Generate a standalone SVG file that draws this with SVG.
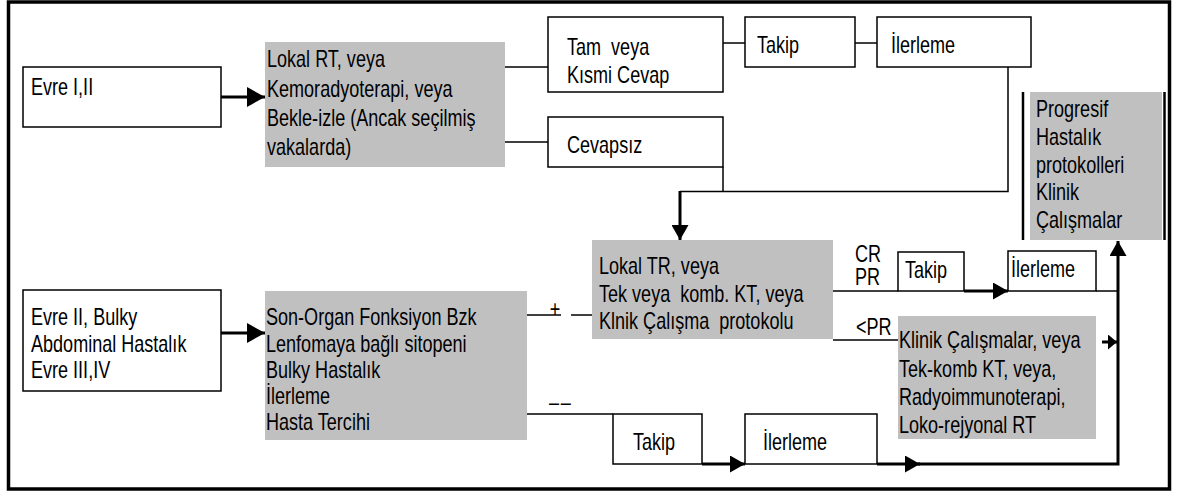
<svg xmlns="http://www.w3.org/2000/svg" width="1179" height="494" viewBox="0 0 1179 494">
<style>
text{font-family:"Liberation Sans",Arial,sans-serif;font-size:23px;fill:#000}
.box{fill:#fff;stroke:#000;stroke-width:1.5}
.gray{fill:#c0c0c0;stroke:none}
.thin{fill:none;stroke:#000;stroke-width:1.5}
.thick{fill:none;stroke:#000;stroke-width:3}
.flank{fill:none;stroke:#000;stroke-width:2.5}
</style>
<defs>
<marker id="ah" markerUnits="userSpaceOnUse" markerWidth="15" markerHeight="17" refX="15" refY="8.5" orient="auto"><path d="M0,0 L15,8.5 L0,17 z" fill="#000"/></marker>
<marker id="ahL" markerUnits="userSpaceOnUse" markerWidth="18" markerHeight="20" refX="18" refY="10" orient="auto"><path d="M0,0 L18,10 L0,20 z" fill="#000"/></marker>
<marker id="ahS" markerUnits="userSpaceOnUse" markerWidth="9" markerHeight="15" refX="9" refY="7.5" orient="auto"><path d="M0,0 L9,7.5 L0,15 z" fill="#000"/></marker>
</defs>
<rect x="8.5" y="2" width="1161" height="487" fill="#fff" stroke="#000" stroke-width="3.5"/>

<g id="connectors">
<line class="thick" x1="221" y1="97" x2="265" y2="97" marker-end="url(#ahL)"/>
<line class="thick" x1="221" y1="333" x2="265" y2="333" marker-end="url(#ahL)"/>
<line class="thin" x1="505" y1="67" x2="548" y2="67"/>
<line class="thin" x1="505" y1="142" x2="548" y2="142"/>
<line class="thin" x1="723" y1="43" x2="745" y2="43"/>
<line class="thin" x1="855" y1="43" x2="877" y2="43"/>
<polyline class="thin" points="1008,67 1008,191.5 680,191.5"/>
<line class="thin" x1="723" y1="167" x2="723" y2="191.5"/>
<line class="thick" x1="680" y1="191" x2="680" y2="240" marker-end="url(#ah)"/>
<line class="thin" x1="527" y1="315" x2="561" y2="315"/>
<line class="thin" x1="571" y1="315" x2="592" y2="315"/>
<line class="thin" x1="833" y1="291" x2="898" y2="291"/>
<line class="thick" x1="964" y1="291" x2="1008" y2="291" marker-end="url(#ah)"/>
<line class="thin" x1="1096" y1="291" x2="1118" y2="291"/>
<line class="thin" x1="833" y1="340" x2="898" y2="340"/>
<line class="thick" x1="1102" y1="342" x2="1117" y2="342" marker-end="url(#ahS)"/>
<line class="thin" x1="527" y1="414" x2="613" y2="414"/>
<line class="thick" x1="702" y1="464" x2="745" y2="464" marker-end="url(#ah)"/>
<line class="thick" x1="877" y1="464" x2="920" y2="464" marker-end="url(#ah)"/>
<polyline class="thick" points="918,464 1118,464 1118,241" marker-end="url(#ah)"/>
<text transform="translate(555,317) scale(0.785,1)" text-anchor="middle">+</text>
<text transform="translate(549,410) scale(0.785,1)" letter-spacing="2.2">––</text>
<text transform="translate(855,262) scale(0.785,1)">CR</text>
<text transform="translate(855,285) scale(0.785,1)">PR</text>
<text transform="translate(856,335) scale(0.785,1)">&lt;PR</text>
</g>

<g id="evre12">
<rect class="box" x="23" y="67" width="198" height="60"/>
<text transform="translate(31,95) scale(0.785,1)">Evre I,II</text>
</g>
<g id="lokalrt">
<rect class="gray" x="265" y="42" width="240" height="125"/>
<text transform="translate(267,67) scale(0.785,1)">Lokal RT, veya</text>
<text transform="translate(267,97) scale(0.785,1)">Kemoradyoterapi, veya</text>
<text transform="translate(267,126) scale(0.785,1)">Bekle-izle (Ancak seçilmiş</text>
<text transform="translate(267,155) scale(0.785,1)">vakalarda)</text>
</g>
<g id="tamveya">
<rect class="box" x="548" y="17" width="175" height="75"/>
<text transform="translate(567,55) scale(0.785,1)" xml:space="preserve">Tam  veya</text>
<text transform="translate(567,83) scale(0.785,1)">Kısmi Cevap</text>
</g>
<g id="cevapsiz">
<rect class="box" x="548" y="117" width="175" height="50"/>
<text transform="translate(567,153) scale(0.785,1)">Cevapsız</text>
</g>
<g id="takip1">
<rect class="box" x="745" y="17" width="110" height="50"/>
<text transform="translate(757,53) scale(0.785,1)">Takip</text>
</g>
<g id="ilerleme1">
<rect class="box" x="877" y="17" width="154" height="50"/>
<text transform="translate(891,53) scale(0.785,1)">İlerleme</text>
</g>
<g id="progresif">
<rect class="gray" x="1030" y="92" width="132" height="148"/>
<line class="flank" x1="1023" y1="92" x2="1023" y2="240"/>
<line class="flank" x1="1164.5" y1="92" x2="1164.5" y2="240"/>
<text transform="translate(1036,117) scale(0.785,1)">Progresif</text>
<text transform="translate(1036,145) scale(0.785,1)">Hastalık</text>
<text transform="translate(1036,173) scale(0.785,1)">protokolleri</text>
<text transform="translate(1036,200) scale(0.785,1)">Klinik</text>
<text transform="translate(1036,228) scale(0.785,1)">Çalışmalar</text>
</g>
<g id="evre2">
<rect class="box" x="23" y="290" width="198" height="101"/>
<text transform="translate(31,325) scale(0.785,1)">Evre II, Bulky</text>
<text transform="translate(31,352) scale(0.785,1)">Abdominal Hastalık</text>
<text transform="translate(31,378) scale(0.785,1)">Evre III,IV</text>
</g>
<g id="sonorgan">
<rect class="gray" x="265" y="291" width="262" height="149"/>
<text transform="translate(266,325) scale(0.785,1)">Son-Organ Fonksiyon Bzk</text>
<text transform="translate(266,352) scale(0.785,1)">Lenfomaya bağlı sitopeni</text>
<text transform="translate(266,378) scale(0.785,1)">Bulky Hastalık</text>
<text transform="translate(266,404) scale(0.785,1)">İlerleme</text>
<text transform="translate(266,430) scale(0.785,1)">Hasta Tercihi</text>
</g>
<g id="lokaltr">
<rect class="gray" x="592" y="240" width="241" height="99"/>
<text transform="translate(599,274) scale(0.785,1)">Lokal TR, veya</text>
<text transform="translate(599,302) scale(0.785,1)" xml:space="preserve">Tek veya  komb. KT, veya</text>
<text transform="translate(599,329) scale(0.785,1)" xml:space="preserve">Klnik Çalışma  protokolu</text>
</g>
<g id="takip2">
<rect class="box" x="898" y="252" width="66" height="39"/>
<text transform="translate(905,278) scale(0.785,1)">Takip</text>
</g>
<g id="ilerleme2">
<rect class="box" x="1008" y="251" width="88" height="40"/>
<text transform="translate(1011,277) scale(0.785,1)">İlerleme</text>
</g>
<g id="klinik">
<rect class="gray" x="898" y="316" width="198" height="123"/>
<text transform="translate(899,348) scale(0.785,1)">Klinik Çalışmalar, veya</text>
<text transform="translate(899,377) scale(0.785,1)">Tek-komb KT, veya,</text>
<text transform="translate(899,405) scale(0.785,1)">Radyoimmunoterapi,</text>
<text transform="translate(899,433) scale(0.785,1)">Loko-rejyonal RT</text>
</g>
<g id="takip3">
<rect class="box" x="613" y="414" width="89" height="50"/>
<text transform="translate(633,450) scale(0.785,1)">Takip</text>
</g>
<g id="ilerleme3">
<rect class="box" x="745" y="414" width="132" height="50"/>
<text transform="translate(763,450) scale(0.785,1)">İlerleme</text>
</g>
</svg>
